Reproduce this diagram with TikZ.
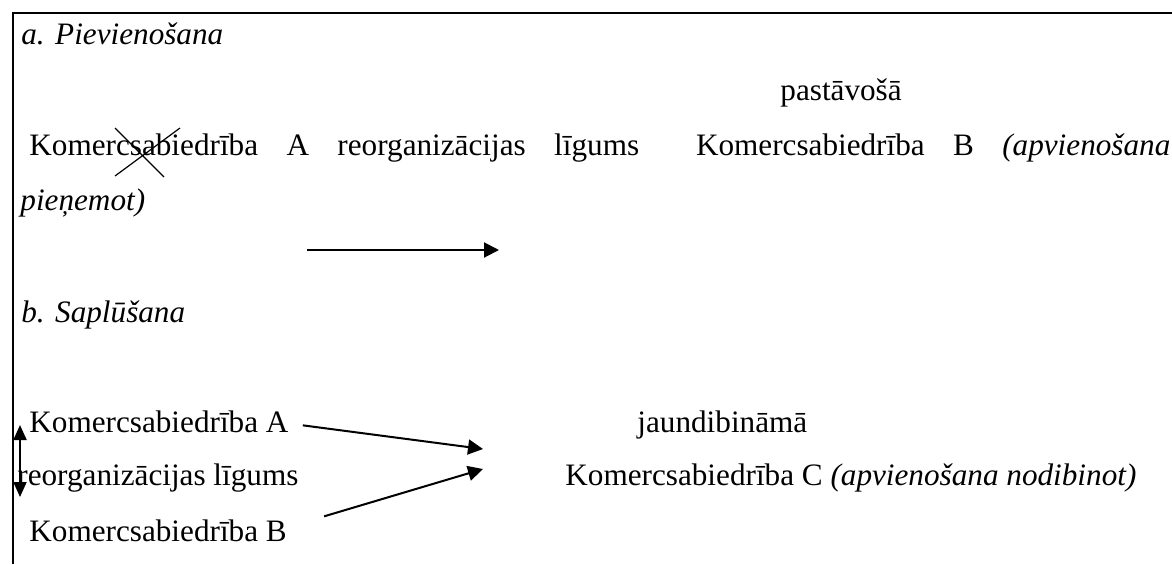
\documentclass[tikz,border=0pt]{standalone}
\usepackage{fontspec}
\setmainfont{Liberation Serif}
\usetikzlibrary{arrows.meta,calc}

\tikzset{
  txt/.style={anchor=base west, inner sep=0pt, font=\fontsize{15.6}{18}\selectfont},
  arr/.style={line width=1pt, -{Triangle[length=7.5pt,width=7.5pt]}},
  dblarr/.style={line width=1pt, {Triangle[length=7.5pt,width=6.5pt]}-{Triangle[length=7.5pt,width=6.5pt]}},
}

\begin{document}
\begin{tikzpicture}[x=0.5pt,y=-0.5pt]
    \useasboundingbox (0,0) rectangle (1172,564);

    % Frame
    \draw[line width=1pt] (13,564) -- (13,13) -- (1172,13);

    % a. Pievienosana
    \node[txt] (titleA) at (21,44) {\textit{a. Pievienošana}};
    \node[txt] (existing) at (780,100) {pastāvošā};
    \node[txt] (lineA) at (29,155) {\hbox to 570.5pt{Komercsabiedrība\hfill A\hfill reorganizācijas\hfill līgums\hfill\hfill Komercsabiedrība\hfill B\hfill\textit{(apvienošana}}};
    \node[txt] (contA) at (20,210) {\textit{pieņemot)}};
    \draw[line width=0.6pt] (115,128) -- (164,177) (115,176) -- (180,128);

    \coordinate (arrL) at (307,250);
    \coordinate (arrR) at (499,250);
    \draw[arr] (arrL) -- (arrR);

    % b. Saplusana
    \node[txt] (titleB) at (21,322) {\textit{b. Saplūšana}};
    \node[txt] (kA) at (29,432) {Komercsabiedrība A};
    \node[txt] (agree) at (17,485) {reorganizācijas līgums};
    \node[txt] (kB) at (29,541) {Komercsabiedrība B};
    \node[txt] (newC) at (637,432) {jaundibināmā};
    \node[txt] (kC) at (565,485) {Komercsabiedrība C \textit{(apvienošana nodibinot)}};

    \coordinate (tipA) at (483,449);
    \coordinate (tipB) at (483,469);
    \draw[arr] ($(kA.east)+(14,4)$) -- (tipA);
    \draw[arr] ($(kB.east)+(37,-14)$) -- (tipB);

    \coordinate (dblTop) at (20,425);
    \coordinate (dblBot) at (20,497);
    \draw[dblarr] (dblTop) -- (dblBot);
\end{tikzpicture}
\end{document}
